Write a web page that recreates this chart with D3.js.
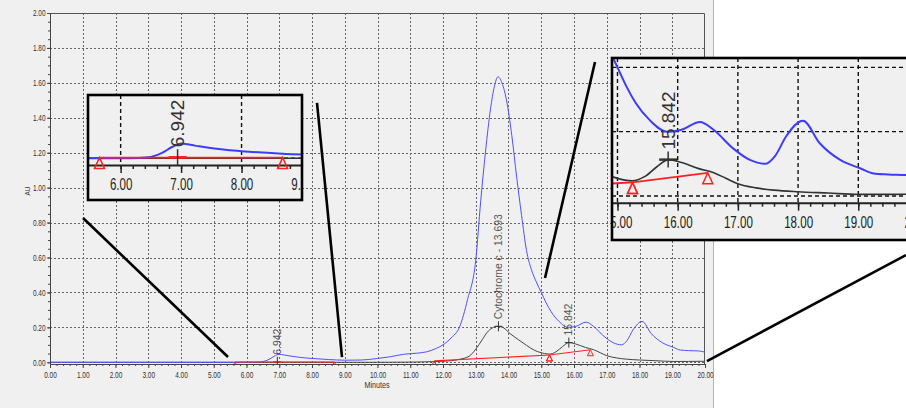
<!DOCTYPE html>
<html>
<head>
<meta charset="utf-8">
<script src="https://cdn.jsdelivr.net/npm/d3@7"></script>
<style>
    body { margin: 0; background: #fff; }
    svg { display: block; font-family: "Liberation Sans", Arial, sans-serif; }
</style>
</head>
<body>
<svg id="chart" width="906" height="408"></svg>
<script>
// blue trace
const blueTime = [0, 1, 2, 3, 4, 5, 5.5, 6, 6.3, 6.5, 6.7, 6.85, 7.0, 7.15, 7.3, 7.55, 7.8, 8.0, 8.5, 9.0, 9.5,
    10.0, 10.4, 10.8, 11.2, 11.5, 11.8, 12.0, 12.25, 12.5, 12.75, 13.0, 13.15, 13.3, 13.45, 13.57, 13.68, 13.8,
    13.95, 14.1, 14.25, 14.4, 14.55, 14.7, 14.85, 15.0, 15.15, 15.3, 15.54, 15.82, 16.05, 16.37, 16.6, 16.92, 17.2,
    17.45, 17.62, 17.8, 18.08, 18.36, 18.7, 19.03, 19.25, 19.5, 19.8, 20.0];
const blueAU = [0, 0, 0, 0, 0, 0, 0, 0, 0.001, 0.004, 0.018, 0.035, 0.046, 0.042, 0.037, 0.03, 0.025, 0.022, 0.016, 0.012, 0.013,
    0.022, 0.032, 0.046, 0.052, 0.06, 0.08, 0.10, 0.14, 0.20, 0.36, 0.585, 0.92, 1.21, 1.45, 1.58, 1.635, 1.60,
    1.49, 1.30, 1.06, 0.84, 0.64, 0.53, 0.46, 0.40, 0.34, 0.29, 0.235, 0.20, 0.205, 0.23, 0.205, 0.148, 0.112,
    0.10, 0.125, 0.185, 0.234, 0.164, 0.112, 0.086, 0.07, 0.067, 0.065, 0.058];

// black trace
const blackTime = [0, 5, 10, 11.0, 11.5, 12.0, 12.5, 12.8, 13.0, 13.2, 13.35, 13.5, 13.68, 13.85, 14.05, 14.3, 14.55,
    14.8, 14.96, 15.25, 15.45, 15.65, 15.85, 16.05, 16.35, 16.6, 16.8, 17.0, 17.3, 17.6, 18.0, 18.5, 19.0, 19.5, 20.0];
const blackAU = [0, 0, 0, 0.001, 0.003, 0.006, 0.017, 0.035, 0.075, 0.13, 0.172, 0.196, 0.206, 0.197, 0.164, 0.13, 0.097,
    0.068, 0.057, 0.047, 0.06, 0.09, 0.113, 0.105, 0.085, 0.072, 0.055, 0.038, 0.025, 0.018, 0.013, 0.009, 0.005, 0.005, 0.006];

// integration baselines (red)
const baseStartTime = [5.65, 11.73, 15.25];
const baseStartAU = [0.002, 0.008, 0.042];
const baseEndTime = [8.68, 15.25, 16.5];
const baseEndAU = [0.002, 0.042, 0.072];

// peaks
const peakTime = [6.942, 13.693, 15.842];
const peakAU = [0.003, 0.206, 0.113];
const peakLabel = ["6.942", "Cytochrome c - 13.693", "15.842"];

const xTicks = d3.range(0, 20.001, 1);
const yTicks = d3.range(0, 2.001, 0.2);

// zoom callout lines, in main chart units [minutes, AU]
const callouts = [
    [[1.008, 0.826], [5.435, 0.03]],
    [[8.153, 1.485], [8.916, 0.03]],
    [[16.641, 1.719], [15.115, 0.483]],
    [[20.06, 0.007], [26.14, 0.614]]
];

const svg = d3.select("#chart");

function condense(sel, k) {
    sel.each(function () {
        const len = this.getComputedTextLength();
        d3.select(this).attr("textLength", len * k).attr("lengthAdjust", "spacingAndGlyphs");
    });
}

const blueLine = blueTime.map((t, i) => [t, blueAU[i]]);
const blackLine = blackTime.map((t, i) => [t, blackAU[i]]);

function drawTraces(g, xs, ys, big) {
    const line = d3.line()
        .x(d => xs(d[0]))
        .y(d => ys(d[1]))
        .curve(d3.curveMonotoneX);

    g.append("path")
        .attr("d", line(blackLine))
        .attr("fill", "none")
        .attr("stroke", big ? "#333" : "#444")
        .attr("stroke-width", big ? 1.6 : 1);

    g.append("path")
        .attr("d", line(blueLine))
        .attr("fill", "none")
        .attr("stroke", big ? "#3c3cff" : "#5050ff")
        .attr("stroke-width", big ? 2 : 1);

    const tw = big ? 10 : 6, th = big ? 11 : 6;
    baseStartTime.forEach((t0, i) => {
        g.append("line")
            .attr("x1", xs(t0)).attr("y1", ys(baseStartAU[i]))
            .attr("x2", xs(baseEndTime[i])).attr("y2", ys(baseEndAU[i]))
            .attr("stroke", "#ff2020")
            .attr("stroke-width", big ? 1.8 : 1.1);
        [[t0, baseStartAU[i]], [baseEndTime[i], baseEndAU[i]]].forEach(p => {
            const px = xs(p[0]), py = ys(p[1]);
            g.append("path")
                .attr("d", `M${px},${py}L${px - tw / 2},${py + th}L${px + tw / 2},${py + th}Z`)
                .attr("fill", "none")
                .attr("stroke", "#ff2020")
                .attr("stroke-width", big ? 1.5 : 1);
        });
    });

    const ch = big ? 8 : 5, cw = big ? 9 : 4;
    peakTime.forEach((t, i) => {
        const px = xs(t), py = ys(peakAU[i]);
        g.append("line")
            .attr("x1", px - cw).attr("x2", px + cw)
            .attr("y1", py).attr("y2", py)
            .attr("stroke", i === 0 ? "#ff2020" : "#333")
            .attr("stroke-width", big ? 2.5 : 1);
        g.append("line")
            .attr("x1", px).attr("x2", px)
            .attr("y1", py - ch).attr("y2", py + ch)
            .attr("stroke", "#333")
            .attr("stroke-width", big ? 1.5 : 1);
        g.append("text")
            .attr("transform", `translate(${px},${py - ch - 2}) rotate(-90)`)
            .attr("dy", "0.35em")
            .attr("fill", big ? "#333" : "#555")
            .style("font-size", big ? "19px" : "10.4px")
            .text(peakLabel[i]);
    });
}

// ---- main chart ----
svg.append("rect").attr("width", 713).attr("height", 408).attr("fill", "#f0f0f0");
svg.append("line")
    .attr("x1", 713.5).attr("x2", 713.5).attr("y1", 0).attr("y2", 408)
    .attr("stroke", "#b4b4b4");

const x = d3.scaleLinear().domain([0, 20]).range([50, 705]);
const y = d3.scaleLinear().domain([0, 2]).range([362.3, 13]);

const grid = svg.append("g")
    .attr("stroke", "#666")
    .attr("stroke-dasharray", "2,2");
grid.selectAll(".vg")
    .data(xTicks.filter(d => d > 0 && d < 20))
    .enter().append("line")
    .attr("x1", d => Math.round(x(d)) + 0.5).attr("x2", d => Math.round(x(d)) + 0.5)
    .attr("y1", y(2)).attr("y2", y(0));
grid.selectAll(".hg")
    .data(yTicks.filter(d => d < 1.99))
    .enter().append("line")
    .attr("x1", x(0)).attr("x2", x(20))
    .attr("y1", d => Math.round(y(d)) + 0.5).attr("y2", d => Math.round(y(d)) + 0.5);

svg.append("path")
    .attr("d", `M${x(0)},${y(2) + 0.5}H${x(20) - 0.5}V364`)
    .attr("fill", "none")
    .attr("stroke", "#555");

svg.append("clipPath").attr("id", "clip-main")
    .append("rect").attr("x", x(0)).attr("y", y(2)).attr("width", x(20) - x(0)).attr("height", 364 - y(2));
drawTraces(svg.append("g").attr("clip-path", "url(#clip-main)"), x, y, false);

function styleAxis(g) {
    g.select(".domain").attr("stroke", "#444");
    g.selectAll(".tick line").attr("stroke", "#444");
    g.selectAll("text").attr("fill", "#333").style("font-size", "9px");
}

const yMinor = svg.append("g").attr("transform", "translate(50,0)")
    .call(d3.axisLeft(y).tickValues(d3.range(0, 2.001, 0.05)).tickSize(2).tickSizeOuter(0).tickFormat(""));
styleAxis(yMinor);
const yAxis = svg.append("g").attr("transform", "translate(50,0)")
    .call(d3.axisLeft(y).tickValues(yTicks).tickSize(3).tickPadding(1.5).tickSizeOuter(0).tickFormat(d3.format(".2f")));
styleAxis(yAxis);
yAxis.select(".domain").remove();
condense(yAxis.selectAll("text"), 0.72);

const xMinor = svg.append("g").attr("transform", "translate(0,364)")
    .call(d3.axisBottom(x).tickValues(d3.range(0, 20.001, 0.2)).tickSize(2).tickSizeOuter(0).tickFormat(""));
styleAxis(xMinor);
const xAxis = svg.append("g").attr("transform", "translate(0,364)")
    .call(d3.axisBottom(x).tickValues(xTicks).tickSize(4).tickPadding(4).tickSizeOuter(0).tickFormat(d3.format(".2f")));
styleAxis(xAxis);
xAxis.select(".domain").remove();
condense(xAxis.selectAll("text"), 0.72);

svg.append("line")
    .attr("x1", 50.5).attr("x2", 50.5).attr("y1", 13).attr("y2", 364)
    .attr("stroke", "#444");

const xTitle = svg.append("text")
    .attr("x", 377).attr("y", 388)
    .attr("text-anchor", "middle")
    .attr("fill", "#333")
    .style("font-size", "9px")
    .text("Minutes");
condense(xTitle, 0.8);

svg.append("text")
    .attr("transform", "translate(28,191) rotate(-90)")
    .attr("text-anchor", "middle")
    .attr("dy", "0.35em")
    .attr("fill", "#333")
    .style("font-size", "6.5px")
    .text("AU");

// callout lines
callouts.forEach(c => {
    svg.append("line")
        .attr("x1", x(c[0][0])).attr("y1", y(c[0][1]))
        .attr("x2", x(c[1][0])).attr("y2", y(c[1][1]))
        .attr("stroke", "#000")
        .attr("stroke-width", 2.6);
});

// ---- zoomed insets ----
const insetPxPerAU = 321.5;

function drawInset(id, box, xDomain, axisY, tickX, gridX, gridY) {
    const g = svg.append("g");
    g.append("clipPath").attr("id", id)
        .append("rect").attr("x", box.x).attr("y", box.y).attr("width", box.w).attr("height", box.h);
    g.append("rect")
        .attr("x", box.x).attr("y", box.y).attr("width", box.w).attr("height", box.h)
        .attr("fill", "#f0f0f0");

    const c = g.append("g").attr("clip-path", `url(#${id})`);
    const xs = d3.scaleLinear().domain(xDomain).range([box.x, box.x + box.w]);
    const zeroY = axisY - 0.021 * insetPxPerAU;
    const ys = d3.scaleLinear().domain([0, 1]).range([zeroY, zeroY - insetPxPerAU]);

    const gg = c.append("g")
        .attr("stroke", "#111")
        .attr("stroke-width", 1.4)
        .attr("stroke-dasharray", "4,3");
    gridX.forEach(d => {
        gg.append("line")
            .attr("x1", xs(d)).attr("x2", xs(d))
            .attr("y1", box.y).attr("y2", axisY);
    });
    gridY.forEach(d => {
        gg.append("line")
            .attr("x1", box.x).attr("x2", box.x + box.w)
            .attr("y1", ys(d)).attr("y2", ys(d));
    });

    const minor = c.append("g").attr("transform", `translate(0,${axisY})`)
        .call(d3.axisBottom(xs).tickValues(d3.range(Math.ceil(xDomain[0]), xDomain[1], 0.2)).tickSize(4).tickSizeOuter(0).tickFormat(""));
    minor.selectAll(".tick line").attr("stroke", "#222").attr("stroke-width", 1.5);
    minor.select(".domain").attr("stroke", "#222").attr("stroke-width", 2);

    const major = c.append("g").attr("transform", `translate(0,${axisY})`)
        .call(d3.axisBottom(xs).tickValues(tickX).tickSize(8).tickPadding(5).tickSizeOuter(0).tickFormat(d3.format(".2f")));
    major.select(".domain").remove();
    major.selectAll(".tick line").attr("stroke", "#222").attr("stroke-width", 1.5);
    major.selectAll("text").attr("fill", "#222").style("font-size", "17px");
    condense(major.selectAll("text"), 0.68);

    drawTraces(c, xs, ys, true);

    g.append("rect")
        .attr("x", box.x).attr("y", box.y).attr("width", box.w).attr("height", box.h)
        .attr("fill", "none")
        .attr("stroke", "#000")
        .attr("stroke-width", 2.6);
}

drawInset("clip-left", { x: 88, y: 95, w: 214, h: 105 }, [5.46, 9.0], 165,
    [6, 7, 8, 9], [6, 8, 9], [0, 0.2]);
drawInset("clip-right", { x: 612, y: 58, w: 308, h: 182 }, [14.909, 20.025], 202.7,
    [15, 16, 17, 18, 19, 20], [15, 16, 17, 18, 19, 20], [0, 0.2, 0.4]);
</script>
</body>
</html>
